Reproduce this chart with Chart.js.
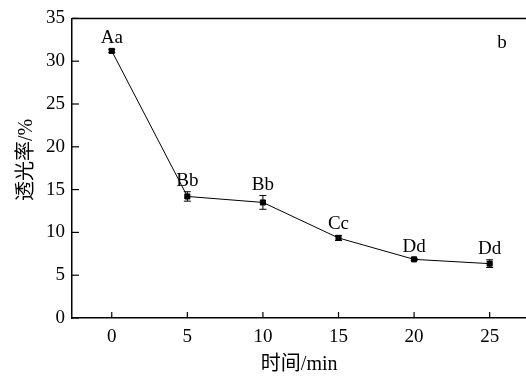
<!DOCTYPE html>
<html lang="zh">
<head>
  <meta charset="UTF-8">
  <title>透光率</title>
  <script src="https://cdn.jsdelivr.net/npm/chart.js"></script>
  <style>
    html, body { margin: 0; padding: 0; background: #fff; overflow: hidden; }
    /* a little wider than the window so the open right side runs off the edge */
    #wrap { width: 531px; height: 379px; position: relative; }
  </style>
</head>
<body>
  <div id="wrap"><canvas id="chart"></canvas></div>
  <script>
    const times = [0, 5, 10, 15, 20, 25];
    const transmittance = [31.2, 14.2, 13.5, 9.35, 6.85, 6.35];
    const errors = [0.2, 0.55, 0.8, 0.3, 0.12, 0.45];
    const letters = ['Aa', 'Bb', 'Bb', 'Cc', 'Dd', 'Dd'];
    const xTicks = [0, 5, 10, 15, 20, 25];
    const yTicks = [0, 5, 10, 15, 20, 25, 30, 35];
    const panelLabel = 'b';
    const yTitle = '透光率/%';

    const serif = "'Liberation Serif', 'Times New Roman', 'Noto Sans CJK SC', serif";

    // error bars, letters, inward ticks, top frame line and y title
    const extras = {
      id: 'extras',
      afterDatasetsDraw(chart) {
        const ctx = chart.ctx;
        const xs = chart.scales.x, ys = chart.scales.y;
        const area = chart.chartArea;
        ctx.save();
        ctx.strokeStyle = '#000';
        ctx.fillStyle = '#000';

        // top frame
        ctx.lineWidth = 1.5;
        ctx.beginPath();
        ctx.moveTo(area.left, area.top);
        ctx.lineTo(area.right, area.top);
        ctx.stroke();

        // inward ticks
        ctx.lineWidth = 1.2;
        xs.ticks.forEach(t => {
          const px = xs.getPixelForValue(t.value);
          ctx.beginPath();
          ctx.moveTo(px, area.bottom);
          ctx.lineTo(px, area.bottom - 6);
          ctx.stroke();
        });
        ys.ticks.forEach(t => {
          const py = ys.getPixelForValue(t.value);
          ctx.beginPath();
          ctx.moveTo(area.left, py);
          ctx.lineTo(area.left + 7, py);
          ctx.stroke();
        });

        // error bars
        ctx.lineWidth = 1;
        times.forEach((t, i) => {
          const px = xs.getPixelForValue(t);
          const top = ys.getPixelForValue(transmittance[i] + errors[i]);
          const bot = ys.getPixelForValue(transmittance[i] - errors[i]);
          ctx.beginPath();
          ctx.moveTo(px, top); ctx.lineTo(px, bot);
          ctx.moveTo(px - 3.5, top); ctx.lineTo(px + 3.5, top);
          ctx.moveTo(px - 3.5, bot); ctx.lineTo(px + 3.5, bot);
          ctx.stroke();
        });

        // significance letters
        ctx.font = '19px ' + serif;
        ctx.textAlign = 'center';
        ctx.textBaseline = 'alphabetic';
        times.forEach((t, i) => {
          const px = xs.getPixelForValue(t);
          const top = ys.getPixelForValue(transmittance[i] + errors[i]);
          ctx.fillText(letters[i], px, top - 6);
        });

        // panel label
        ctx.fillText(panelLabel, 502, 48);

        // y axis title
        ctx.font = '20px ' + serif;
        ctx.textBaseline = 'middle';
        ctx.translate(27, 160);
        ctx.rotate(-Math.PI / 2);
        ctx.fillText(yTitle, 0, 0);
        ctx.restore();
      }
    };

    new Chart(document.getElementById('chart'), {
      type: 'line',
      data: {
        datasets: [{
          data: times.map((t, i) => ({ x: t, y: transmittance[i] })),
          borderColor: '#000',
          backgroundColor: '#000',
          borderWidth: 1,
          pointStyle: 'rect',
          pointRadius: 3.6,
          pointHoverRadius: 3.6,
          tension: 0
        }]
      },
      options: {
        responsive: true,
        maintainAspectRatio: false,
        animation: false,
        events: [],
        layout: { padding: { top: 15, right: 0, left: 0, bottom: 0 } },
        plugins: {
          legend: { display: false },
          tooltip: { enabled: false }
        },
        scales: {
          x: {
            type: 'linear',
            min: -2.63,
            max: 27.43,
            afterBuildTicks: s => { s.ticks = xTicks.map(v => ({ value: v })); },
            afterFit: s => { s.height = 61; s.paddingLeft = 0; s.paddingRight = 0; },
            grid: { drawOnChartArea: false, drawTicks: false },
            border: { display: true, color: '#000', width: 1.5 },
            ticks: { color: '#000', font: { family: serif, size: 19 }, padding: 8, maxRotation: 0 },
            title: {
              display: true,
              text: '时间/min',
              color: '#000',
              font: { family: serif, size: 20 },
              padding: { top: 0, bottom: 2 }
            }
          },
          y: {
            min: 0,
            max: 35,
            afterBuildTicks: s => { s.ticks = yTicks.map(v => ({ value: v })); },
            afterFit: s => { s.width = 72; },
            grid: { drawOnChartArea: false, drawTicks: false },
            border: { display: true, color: '#000', width: 1.5 },
            ticks: { color: '#000', font: { family: serif, size: 19 }, padding: 7 },
            title: { display: false }
          }
        }
      },
      plugins: [extras]
    });
  </script>
</body>
</html>
